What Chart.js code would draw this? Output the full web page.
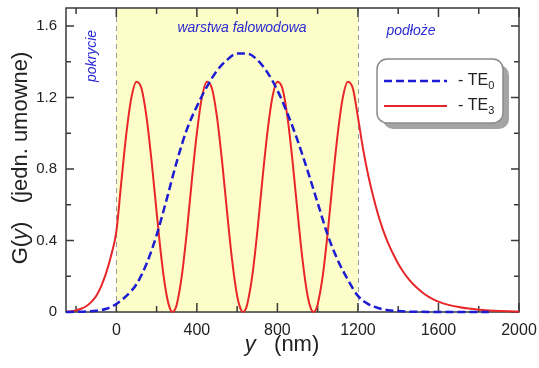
<!DOCTYPE html>
<html>
<head>
<meta charset="utf-8">
<script src="https://cdn.jsdelivr.net/npm/chart.js@4.4.1/dist/chart.umd.min.js"></script>
<style>
    html, body { margin: 0; background: #fff; }
    #wrap { width: 539px; height: 368px; }
</style>
</head>
<body>
<div id="wrap"><canvas id="chart"></canvas></div>
<script>
// y position (nm) and G(y)
const redPos = [-250, -225, -200, -175, -150, -125, -100, -75, -50, -25,
    0, 25, 50, 75, 100, 125, 150, 175, 200, 225, 250, 268, 280, 292, 300, 325, 350, 375,
    400, 425, 450, 475, 500, 525, 550, 575, 600, 618, 630, 642, 650, 675, 700, 725, 750, 775,
    800, 825, 850, 875, 900, 925, 950, 968, 980, 992, 1000, 1025, 1050, 1075, 1100, 1125, 1150, 1175,
    1200, 1225, 1250, 1275, 1300, 1325, 1350, 1375, 1400, 1425, 1450, 1475, 1500, 1525, 1550, 1575,
    1600, 1650, 1700, 1750, 1800, 1850, 1900, 1950, 2000];
const redG = [0.002, 0.004, 0.009, 0.018, 0.032, 0.055, 0.09, 0.145, 0.22, 0.32,
    0.45, 0.73, 1.0, 1.2, 1.288, 1.25, 1.09, 0.845, 0.56, 0.29, 0.092, 0.015, 0, 0.015, 0.04, 0.2, 0.445, 0.735,
    1.0, 1.2, 1.288, 1.25, 1.09, 0.845, 0.56, 0.29, 0.09, 0.015, 0, 0.015, 0.042, 0.2, 0.445, 0.735, 1.0, 1.2,
    1.288, 1.25, 1.09, 0.845, 0.56, 0.29, 0.09, 0.015, 0, 0.015, 0.042, 0.2, 0.445, 0.735, 1.0, 1.2, 1.288, 1.25,
    1.09, 0.915, 0.77, 0.65, 0.545, 0.458, 0.385, 0.324, 0.27, 0.225, 0.187, 0.155, 0.128, 0.105, 0.086, 0.071,
    0.058, 0.04, 0.028, 0.019, 0.013, 0.009, 0.006, 0.004, 0.003];

const bluePos = [-250, -200, -150, -100, -50, 0, 50, 100, 150, 200, 250, 300, 350, 400,
    450, 500, 550, 600, 650, 700, 750, 800, 850, 900, 950, 1000, 1050, 1100, 1150, 1200,
    1250, 1300, 1350, 1400, 1450, 1500, 1600, 1700, 1850];
const blueG = [0, 0.001, 0.003, 0.007, 0.018, 0.045, 0.09, 0.155, 0.27, 0.43, 0.63, 0.84, 1.02, 1.15,
    1.26, 1.35, 1.41, 1.445, 1.445, 1.41, 1.34, 1.24, 1.11, 0.96, 0.79, 0.61, 0.43, 0.29, 0.18, 0.09,
    0.045, 0.022, 0.01, 0.005, 0.002, 0.001, 0, 0, 0];

const xTicks = [0, 400, 800, 1200, 1600, 2000];
const xMinor = [-200, 200, 600, 1000, 1400, 1800];
const yTicks = [0, 0.4, 0.8, 1.2, 1.6];
const yMinor = [0.2, 0.6, 1.0, 1.4];
const coreBounds = [0, 1200];

const FONT = '"Liberation Sans", Arial, sans-serif';
const BLUE = '#1c1cd2';
const RED = '#e8262a';
const TXTBLUE = '#2a2ad2';

const toPts = (xs, ys) => xs.map((x, i) => ({ x: x, y: ys[i] }));

// text pieces with mixed italic: [[text, italic], ...]
function drawParts(ctx, parts, size, cx, cy) {
    let total = 0;
    parts.forEach(p => {
        ctx.font = (p[1] ? 'italic ' : '') + size + 'px ' + FONT;
        total += ctx.measureText(p[0]).width;
    });
    let x = cx - total / 2;
    parts.forEach(p => {
        ctx.font = (p[1] ? 'italic ' : '') + size + 'px ' + FONT;
        ctx.fillText(p[0], x, cy);
        x += ctx.measureText(p[0]).width;
    });
}

function roundRect(ctx, x, y, w, h, r) {
    ctx.beginPath();
    ctx.moveTo(x + r, y);
    ctx.arcTo(x + w, y, x + w, y + h, r);
    ctx.arcTo(x + w, y + h, x, y + h, r);
    ctx.arcTo(x, y + h, x, y, r);
    ctx.arcTo(x, y, x + w, y, r);
    ctx.closePath();
}

const decor = {
    id: 'decor',
    beforeDatasetsDraw(chart) {
        const { ctx, chartArea: a, scales: { x, y } } = chart;
        ctx.save();
        const x0 = x.getPixelForValue(coreBounds[0]);
        const x1 = x.getPixelForValue(coreBounds[1]);
        ctx.fillStyle = '#fdfdc9';
        ctx.fillRect(x0, a.top, x1 - x0, a.bottom - a.top);

        ctx.strokeStyle = '#9a9a9a';
        ctx.lineWidth = 1;
        ctx.setLineDash([5, 4]);
        coreBounds.forEach(v => {
            const px = Math.round(x.getPixelForValue(v)) + 0.5;
            ctx.beginPath();
            ctx.moveTo(px, a.top);
            ctx.lineTo(px, a.bottom);
            ctx.stroke();
        });
        ctx.setLineDash([]);

        // frame + inward ticks
        ctx.strokeStyle = '#3a3a3a';
        ctx.lineWidth = 1.5;
        ctx.strokeRect(a.left, a.top, a.right - a.left, a.bottom - a.top);
        ctx.beginPath();
        const tx = (v, len) => {
            const px = x.getPixelForValue(v);
            ctx.moveTo(px, a.bottom); ctx.lineTo(px, a.bottom - len);
            ctx.moveTo(px, a.top); ctx.lineTo(px, a.top + len);
        };
        const ty = (v, len) => {
            const py = y.getPixelForValue(v);
            ctx.moveTo(a.left, py); ctx.lineTo(a.left + len, py);
            ctx.moveTo(a.right, py); ctx.lineTo(a.right - len, py);
        };
        xTicks.forEach(v => tx(v, 9));
        xMinor.forEach(v => tx(v, 6));
        yTicks.forEach(v => ty(v, 8));
        yMinor.forEach(v => ty(v, 5));
        ctx.stroke();
        ctx.restore();
    },
    afterDatasetsDraw(chart) {
        const { ctx } = chart;
        ctx.save();
        ctx.fillStyle = TXTBLUE;
        ctx.textBaseline = 'middle';
        ctx.textAlign = 'left';
        drawParts(ctx, [['warstwa falowodowa', true]], 14, 242, 28);
        drawParts(ctx, [['podłoże', true]], 14, 411, 31);
        ctx.save();
        ctx.translate(92, 56);
        ctx.rotate(-Math.PI / 2);
        drawParts(ctx, [['pokrycie', true]], 14, 0, 0);
        ctx.restore();

        // axis titles
        ctx.fillStyle = '#222';
        drawParts(ctx, [['y', true], ['   (nm)', false]], 22, 282, 345);
        ctx.save();
        ctx.translate(21, 158);
        ctx.rotate(-Math.PI / 2);
        drawParts(ctx, [['G(', false], ['y', true], [')   (jedn. umowne)', false]], 22, 0, 0);
        ctx.restore();

        // legend box
        ctx.fillStyle = '#a4a4a4';
        roundRect(ctx, 383, 65, 126, 64, 10);
        ctx.fill();
        ctx.fillStyle = '#fff';
        ctx.strokeStyle = '#8a8a8a';
        ctx.lineWidth = 1.5;
        roundRect(ctx, 377, 59, 126, 64, 10);
        ctx.fill();
        ctx.stroke();

        const items = chart.data.datasets;
        const rows = [81, 106];
        items.forEach((ds, i) => {
            ctx.strokeStyle = ds.borderColor;
            ctx.lineWidth = ds.borderWidth;
            ctx.setLineDash(ds.borderDash || []);
            ctx.beginPath();
            ctx.moveTo(384, rows[i]);
            ctx.lineTo(447, rows[i]);
            ctx.stroke();
            ctx.setLineDash([]);
            ctx.fillStyle = '#222';
            ctx.font = '16px ' + FONT;
            ctx.fillText('- TE', 458, rows[i]);
            const w = ctx.measureText('- TE').width;
            ctx.font = '11px ' + FONT;
            ctx.fillText(ds.label.slice(2), 458 + w, rows[i] + 5);
        });
        ctx.restore();
    }
};

new Chart(document.getElementById('chart'), {
    type: 'line',
    data: {
        datasets: [{
            label: 'TE0',
            data: toPts(bluePos, blueG),
            borderColor: BLUE,
            borderWidth: 2.5,
            borderDash: [8, 4],
            pointRadius: 0,
            cubicInterpolationMode: 'monotone',
            clip: 4,
            order: 0
        }, {
            label: 'TE3',
            data: toPts(redPos, redG),
            borderColor: RED,
            borderWidth: 2,
            pointRadius: 0,
            cubicInterpolationMode: 'monotone',
            clip: 4,
            order: 1
        }]
    },
    options: {
        responsive: true,
        maintainAspectRatio: false,
        animation: false,
        layout: { padding: { top: 8, right: 20, left: 0, bottom: 0 } },
        plugins: { legend: { display: false }, tooltip: { enabled: false } },
        scales: {
            x: {
                type: 'linear',
                min: -250,
                max: 2000,
                grid: { display: false, drawTicks: false },
                border: { display: false },
                afterBuildTicks: s => { s.ticks = xTicks.map(v => ({ value: v })); },
                afterFit: s => { s.height = 56; s.paddingLeft = 0; s.paddingRight = 0; },
                ticks: {
                    padding: 9, color: '#222', font: { family: FONT, size: 16 }, maxRotation: 0,
                    callback: v => String(v)
                }
            },
            y: {
                min: 0,
                max: 1.7,
                grid: { display: false, drawTicks: false },
                border: { display: false },
                afterBuildTicks: s => { s.ticks = yTicks.map(v => ({ value: v })); },
                afterFit: s => { s.width = 66; s.paddingTop = 0; s.paddingBottom = 0; },
                ticks: {
                    padding: 9, color: '#222', font: { family: FONT, size: 15 },
                    callback: v => v === 0 ? '0' : v.toFixed(1)
                }
            }
        }
    },
    plugins: [decor]
});
</script>
</body>
</html>
